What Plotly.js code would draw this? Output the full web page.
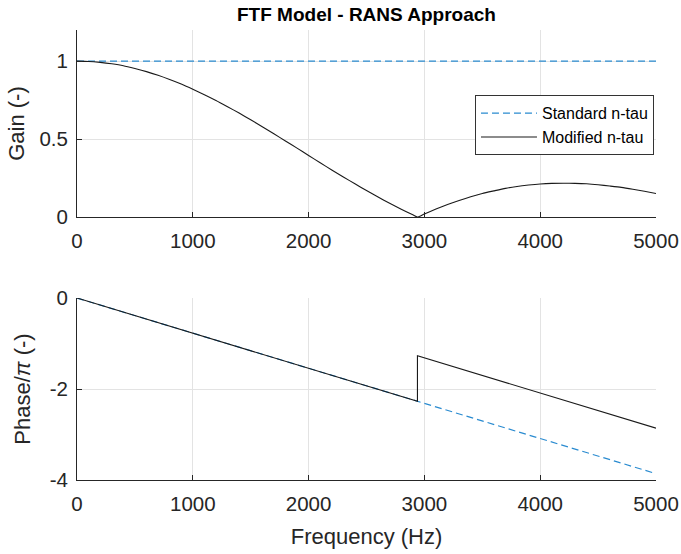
<!DOCTYPE html>
<html>
<head>
<meta charset="utf-8">
<script src="https://cdn.plot.ly/plotly-3.0.1.min.js"></script>
<style>html,body{margin:0;padding:0;background:#fff;}#chart{width:681px;height:554px;}</style>
</head>
<body>
<div id="chart"></div>
<script>
// ---- data ----
const seriesNames = ["Standard n-tau", "Modified n-tau"];
const xTicks = [0, 1000, 2000, 3000, 4000, 5000];
const gainTicks = [0, 0.5, 1];
const phaseTicks = [-4, -2, 0];

const gainStdFreq = [0, 5000];
const gainStd = [1, 1];

const gainModFreq = [0,100,200,300,400,500,600,700,800,900,1000,1100,1200,1300,1400,1500,1600,1700,1800,1900,2000,2100,2200,2300,2400,2500,2600,2700,2800,2900,2940,3000,3100,3200,3300,3400,3500,3600,3700,3800,3900,4000,4100,4200,4300,4400,4500,4600,4700,4800,4900,5000];
const gainMod = [1.000,0.998,0.992,0.983,0.971,0.953,0.933,0.909,0.882,0.853,0.820,0.785,0.748,0.708,0.667,0.624,0.579,0.534,0.488,0.442,0.395,0.348,0.302,0.257,0.213,0.170,0.128,0.088,0.050,0.014,0.000,0.020,0.051,0.080,0.106,0.130,0.151,0.168,0.184,0.196,0.205,0.212,0.216,0.217,0.216,0.213,0.207,0.199,0.190,0.178,0.165,0.151];

const phaseStdFreq = [0, 1000, 2000, 3000, 4000, 5000];
const phaseStd = [0, -0.772, -1.544, -2.316, -3.088, -3.860];

const phaseModFreq = [0, 1000, 2000, 2940, 2940, 3000, 4000, 5000];
const phaseMod = [0, -0.772, -1.544, -2.270, -1.270, -1.316, -2.088, -2.860];

// ---- styles ----
const blue = "#2a8bd0";
const black = "#1a1a1a";
const axisCol = "#262626";
const gridCol = "#e3e3e3";

const traces = [
  {x: gainStdFreq, y: gainStd, xaxis: "x", yaxis: "y", mode: "lines", name: seriesNames[0],
   line: {color: blue, width: 1.2, dash: "7px,4px"}},
  {x: gainModFreq, y: gainMod, xaxis: "x", yaxis: "y", mode: "lines", name: seriesNames[1],
   line: {color: black, width: 1.1, shape: "spline", smoothing: 0.6}},
  {x: phaseStdFreq, y: phaseStd, xaxis: "x2", yaxis: "y2", mode: "lines", name: seriesNames[0],
   line: {color: blue, width: 1.2, dash: "7px,4px"}, showlegend: false},
  {x: phaseModFreq, y: phaseMod, xaxis: "x2", yaxis: "y2", mode: "lines", name: seriesNames[1],
   line: {color: black, width: 1.1}, showlegend: false}
];

const fontFam = "Liberation Sans, Arial, Helvetica, sans-serif";
const tickFont = {family: fontFam, size: 20.5, color: axisCol};
const titleFont = {family: fontFam, size: 22, color: axisCol};

function xa(anchor) {
  return {anchor: anchor, range: [0, 5000], tickvals: xTicks, ticktext: xTicks.map(String),
    showgrid: true, gridcolor: gridCol, gridwidth: 1, zeroline: false,
    showline: true, linecolor: axisCol, linewidth: 1, mirror: false,
    ticks: "inside", ticklen: 5, tickcolor: axisCol, tickfont: tickFont,
    ticklabelstandoff: 5, fixedrange: true};
}
function ya(anchor, range, ticks, dom, title, standoff) {
  return {anchor: anchor, range: range, tickvals: ticks, ticktext: ticks.map(String), domain: dom,
    showgrid: true, gridcolor: gridCol, gridwidth: 1, zeroline: false,
    showline: true, linecolor: axisCol, linewidth: 1,
    ticks: "inside", ticklen: 5, tickcolor: axisCol, tickfont: tickFont, ticklabelstandoff: 4,
    title: {text: title, font: titleFont, standoff: standoff}, fixedrange: true};
}

const xaxis1 = xa("y");
const xaxis2 = xa("y2");
xaxis2.title = {text: "Frequency (Hz)", font: titleFont, standoff: 15};

const layout = {
  width: 681, height: 554,
  margin: {l: 77, r: 25, t: 30, b: 74},
  paper_bgcolor: "#fff", plot_bgcolor: "#fff",
  title: {text: "<b>FTF Model - RANS Approach</b>", font: {family: fontFam, size: 19, color: "#000"},
          xref: "paper", x: 0.5, xanchor: "center", yref: "container", y: 1 - 14/554, yanchor: "middle"},
  xaxis: xaxis1,
  yaxis: ya("x", [0, 1.2], gainTicks, [0.5844, 1], "Gain (-)", 8),
  xaxis2: xaxis2,
  yaxis2: ya("x2", [-4, 0], phaseTicks, [0, 0.4044], "Phase/<i>π</i> (-)", 12),
  showlegend: true,
  legend: {x: 0.9965, y: 0.855, xanchor: "right", yanchor: "top", bgcolor: "#fff",
           bordercolor: "#333", borderwidth: 1, font: {family: fontFam, size: 16, color: "#000"},
           tracegroupgap: 0, itemwidth: 56}
};

Plotly.newPlot("chart", traces, layout, {displayModeBar: false, staticPlot: true});
</script>
</body>
</html>
